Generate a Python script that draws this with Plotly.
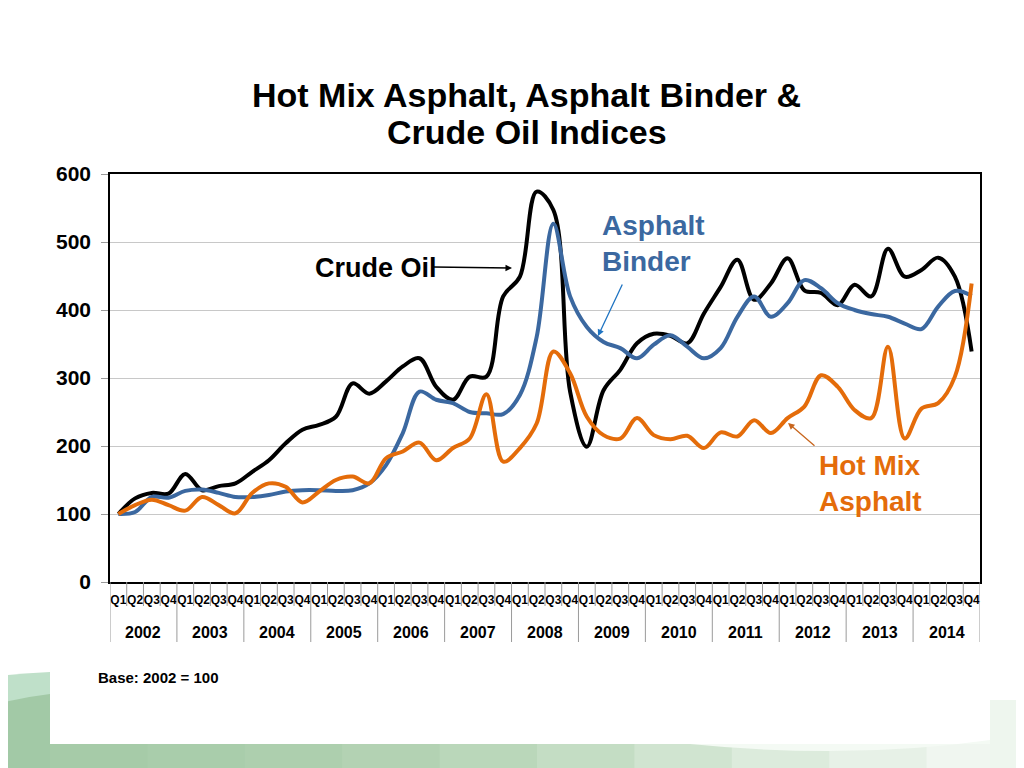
import plotly.graph_objects as go

# ---------------- data ----------------
years = [str(y) for y in range(2002, 2015)]
quarters = ["Q1", "Q2", "Q3", "Q4"]
x_year = [y for y in years for q in quarters]
x_quarter = [q for y in years for q in quarters]

crude_oil = [100, 123, 131, 130, 159, 135, 141, 145, 162, 179, 204, 224, 231, 243, 292, 277,
             295, 317, 329, 287, 268, 302, 302, 420, 449, 574, 547, 280, 199, 282, 312, 351,
             365, 362, 351, 395, 434, 474, 415, 439, 476, 429, 425, 407, 437, 420, 490, 449,
             459, 477, 449, 339]
asphalt_binder = [100, 103, 125, 124, 134, 136, 131, 125, 125, 128, 133, 135, 135, 134, 135, 145,
                  172, 219, 280, 268, 263, 250, 248, 247, 275, 360, 527, 420, 375, 353, 344, 329,
                  349, 363, 346, 329, 344, 390, 420, 390, 410, 444, 432, 410, 400, 394, 390, 380,
                  372, 405, 428, 421]
hot_mix_asphalt = [100, 113, 121, 113, 105, 125, 113, 101, 131, 145, 140, 117, 133, 150, 155, 145,
                   182, 192, 205, 179, 197, 211, 276, 177, 197, 233, 339, 307, 243, 216, 211, 241,
                   216, 210, 215, 197, 220, 214, 238, 219, 241, 258, 304, 287, 253, 241, 346, 211,
                   255, 263, 302, 439]

BLACK = "#000000"
BLUE = "#3B68A0"
ORANGE = "#E46C0A"
GREY = "#9A9A9A"
FONT = "Liberation Sans"

OFF = 8                      # page body margin in the browser
W, H = 1024 - OFF, 768 - OFF
L, R, T, B = 110, 980, 174, 582   # plot area in screen pixels


def px(x):
    return (x - L) / (R - L)


def py(y):
    return (B - y) / (B - T)


xpos = list(range(len(x_quarter)))   # category index positions

fig = go.Figure()

for name, vals, col in [("Crude Oil", crude_oil, BLACK),
                        ("Asphalt Binder", asphalt_binder, BLUE),
                        ("Hot Mix Asphalt", hot_mix_asphalt, ORANGE)]:
    fig.add_trace(go.Scatter(
        x=xpos, y=vals, name=name, mode="lines",
        line=dict(color=col, width=4, shape="spline", smoothing=1),
    ))

shapes = []
# ---------------- decoration (slide background) ----------------
shapes.append(dict(type="path", xref="paper", yref="paper", layer="below",
                   path=f"M {px(0)},{py(676)} Q {px(25)},{py(673)} {px(50)},{py(672)} L {px(50)},{py(768)} L {px(0)},{py(768)} Z",
                   fillcolor="#BFE0C9", line=dict(width=0)))
shapes.append(dict(type="path", xref="paper", yref="paper", layer="below",
                   path=f"M {px(0)},{py(703)} Q {px(25)},{py(697)} {px(50)},{py(694)} L {px(50)},{py(768)} L {px(0)},{py(768)} Z",
                   fillcolor="#A2C9A6", line=dict(width=0)))
band_cols = ["#A6CBA8", "#A9CDAB", "#ADCFAE", "#B3D2B3", "#BAD7BA", "#C4DDC4",
             "#D0E4D0", "#DCEBDC", "#E7F1E7", "#F0F6F0"]
n = len(band_cols)
for k, c in enumerate(band_cols):
    x0 = 50 + k * (1024 - 50) / n
    x1 = 50 + (k + 1) * (1024 - 50) / n + 1
    shapes.append(dict(type="rect", xref="paper", yref="paper", layer="below",
                       x0=px(x0), x1=px(x1), y0=py(744), y1=py(768),
                       fillcolor=c, line=dict(width=0)))
shapes.append(dict(type="path", xref="paper", yref="paper", layer="below",
                   path=f"M {px(690)},{py(744)} Q {px(850)},{py(760)} {px(990)},{py(740)} L {px(990)},{py(744)} Z",
                   fillcolor="#F4FAF4", line=dict(width=0)))
shapes.append(dict(type="rect", xref="paper", yref="paper", layer="below",
                   x0=px(990), x1=px(1024), y0=py(700), y1=py(768),
                   fillcolor="#EEF6EE", line=dict(width=0)))

# ---------------- category boundary ticks & year dividers ----------------
for k in range(len(x_quarter) + 1):
    is_year = (k % len(quarters) == 0)
    shapes.append(dict(type="line", xref="x", yref="paper",
                       x0=k - 0.5, x1=k - 0.5, y0=0, y1=py(642 if is_year else 606),
                       line=dict(color=GREY, width=1)))

annotations = [
    dict(text="<b>Hot Mix Asphalt, Asphalt Binder &</b>",
         xref="paper", yref="paper", x=px(526), y=py(95), xanchor="center", yanchor="middle",
         showarrow=False, font=dict(family=FONT, size=34, color="black")),
    dict(text="<b>Crude Oil Indices</b>",
         xref="paper", yref="paper", x=px(527), y=py(132), xanchor="center", yanchor="middle",
         showarrow=False, font=dict(family=FONT, size=34, color="black")),
    dict(text="<b>Crude Oil</b>", xref="paper", yref="paper", x=px(376), y=py(268),
         xanchor="center", yanchor="middle", showarrow=False,
         font=dict(family=FONT, size=27, color="black")),
    dict(text="", xref="paper", yref="paper", x=px(512), y=py(268), ax=-80, ay=-1,
         showarrow=True, arrowhead=2, arrowsize=1, arrowwidth=1.3, arrowcolor="black"),
    dict(text="<b>Asphalt<br>Binder</b>", xref="paper", yref="paper", x=px(600), y=py(243),
         xanchor="left", yanchor="middle", align="left", showarrow=False,
         font=dict(family=FONT, size=28, color=BLUE)),
    dict(text="", xref="paper", yref="paper", x=px(598), y=py(336), ax=25, ay=-53,
         showarrow=True, arrowhead=2, arrowsize=1, arrowwidth=1.3, arrowcolor="#1F74C2"),
    dict(text="<b>Hot Mix<br>Asphalt</b>", xref="paper", yref="paper", x=px(817), y=py(483),
         xanchor="left", yanchor="middle", align="left", showarrow=False,
         font=dict(family=FONT, size=28, color=ORANGE)),
    dict(text="", xref="paper", yref="paper", x=px(788), y=py(423), ax=28, ay=24,
         showarrow=True, arrowhead=2, arrowsize=1, arrowwidth=1.3, arrowcolor="#C8661E"),
    dict(text="<b>Base: 2002 = 100</b>", xref="paper", yref="paper", x=px(96), y=py(677),
         xanchor="left", yanchor="middle", showarrow=False,
         font=dict(family=FONT, size=15, color="black")),
]

# year labels centred under each group of quarters
nq = len(quarters)
for k, yr in enumerate(years):
    annotations.append(dict(text=f"<b>{yr}</b>", xref="x", yref="paper",
                            x=k * nq + (nq - 1) / 2, y=py(632), xanchor="center", yanchor="middle",
                            showarrow=False, font=dict(family=FONT, size=16, color="black")))

fig.update_layout(
    width=W, height=H,
    margin=dict(l=L - OFF, r=1024 - R, t=T - OFF, b=768 - B, pad=0),
    paper_bgcolor="white", plot_bgcolor="white",
    showlegend=False,
    font=dict(family=FONT, color="black"),
    shapes=shapes,
    annotations=annotations,
    xaxis=dict(range=[-0.5, len(x_quarter) - 0.5], tickmode="array", tickvals=xpos, ticktext=x_quarter,
               showline=True, linecolor="black", linewidth=1.5, mirror=True,
               showgrid=False, zeroline=False, ticks="", tickangle=0, ticklabelstandoff=6,
               tickfont=dict(family=FONT, size=12, color="black", weight="bold")),
    yaxis=dict(range=[0, 600], dtick=100, showgrid=True, gridcolor="#C8C8C8", gridwidth=1,
               showline=True, linecolor="black", linewidth=1.5, mirror=True, zeroline=False,
               ticks="outside", ticklen=7, tickcolor=GREY, ticklabelstandoff=6,
               tickfont=dict(family=FONT, size=21, color="black", weight="bold")),
)

fig.write_html("out.html")
